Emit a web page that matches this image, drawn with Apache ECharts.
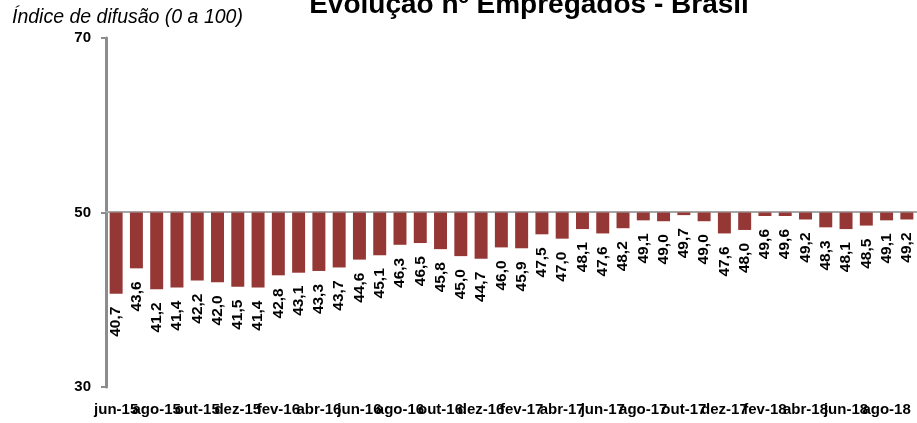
<!DOCTYPE html>
<html>
<head>
<meta charset="utf-8">
<script src="https://cdn.jsdelivr.net/npm/echarts@6/dist/echarts.min.js"></script>
<style>
  html, body { margin: 0; padding: 0; background: #fff; }
  #chart { width: 917px; height: 423px; }
</style>
</head>
<body>
<div id="chart"></div>
<script>
// meses (jun-15 .. set-18)
var months = ['jun-15', 'jul-15', 'ago-15', 'set-15', 'out-15', 'nov-15', 'dez-15', 'jan-16',
    'fev-16', 'mar-16', 'abr-16', 'mai-16', 'jun-16', 'jul-16', 'ago-16', 'set-16',
    'out-16', 'nov-16', 'dez-16', 'jan-17', 'fev-17', 'mar-17', 'abr-17', 'mai-17',
    'jun-17', 'jul-17', 'ago-17', 'set-17', 'out-17', 'nov-17', 'dez-17', 'jan-18',
    'fev-18', 'mar-18', 'abr-18', 'mai-18', 'jun-18', 'jul-18', 'ago-18', 'set-18'];

// indice de difusao
var empregados = [40.7, 43.6, 41.2, 41.4, 42.2, 42.0, 41.5, 41.4, 42.8, 43.1,
    43.3, 43.7, 44.6, 45.1, 46.3, 46.5, 45.8, 45.0, 44.7, 46.0,
    45.9, 47.5, 47.0, 48.1, 47.6, 48.2, 49.1, 49.0, 49.7, 49.0,
    47.6, 48.0, 49.6, 49.6, 49.2, 48.3, 48.1, 48.5, 49.1, 49.2];

var yMin = 30, yMax = 70, yStep = 20, baseLine = 50;

var myChart = echarts.init(document.getElementById('chart'));

var option = {
    animation: false,
    title: [
        {
            text: 'Evolução nº Empregados - Brasil',
            left: 524,
            textAlign: 'center',
            top: -14,
            textStyle: { fontFamily: 'Liberation Sans', fontWeight: 'bold', fontSize: 28, color: '#000' }
        },
        {
            text: 'Índice de difusão (0 a 100)',
            left: 7,
            top: 3,
            textStyle: { fontFamily: 'Liberation Sans', fontStyle: 'italic', fontWeight: 'normal', fontSize: 19.5, color: '#000' }
        }
    ],
    grid: { left: 106, right: 0, top: 38, bottom: 36 },
    xAxis: [
        {
            type: 'category',
            data: months,
            axisLine: { show: false },
            axisTick: { show: false },
            axisLabel: {
                interval: 0,
                margin: 15,
                fontFamily: 'Liberation Sans',
                fontWeight: 'bold',
                fontSize: 15,
                color: '#000',
                // so mostra um mes sim, outro nao
                formatter: function (value, idx) { return idx % 2 === 0 ? value : ''; }
            }
        },
        {
            // linha do eixo em 50
            type: 'category',
            data: months,
            position: 'bottom',
            offset: -175,
            axisLine: { onZero: false, lineStyle: { color: '#a6a6a6', width: 2 } },
            axisTick: { interval: 1, length: 5, lineStyle: { color: '#a6a6a6', width: 2 } },
            axisLabel: { show: false }
        }
    ],
    yAxis: {
        type: 'value',
        min: yMin,
        max: yMax,
        interval: yStep,
        startValue: baseLine,
        splitLine: { show: false },
        axisLine: { show: true, lineStyle: { color: '#8c8c8c', width: 3 } },
        axisTick: { show: true, length: 5, lineStyle: { color: '#8c8c8c', width: 2 } },
        axisLabel: { fontFamily: 'Liberation Sans', fontWeight: 'bold', fontSize: 15, color: '#000', margin: 15 }
    },
    series: [
        {
            name: 'Empregados',
            type: 'bar',
            data: empregados,
            barCategoryGap: '36%',
            itemStyle: { color: '#953735' },
            z: 1,
            label: {
                show: true,
                position: 'bottom',
                distance: 13,
                rotate: 90,
                align: 'right',
                verticalAlign: 'middle',
                fontFamily: 'Liberation Sans',
                fontWeight: 'bold',
                fontSize: 15.5,
                color: '#000',
                formatter: function (p) { return p.value.toFixed(1).replace('.', ','); }
            }
        }
    ]
};

myChart.setOption(option);
</script>
</body>
</html>
